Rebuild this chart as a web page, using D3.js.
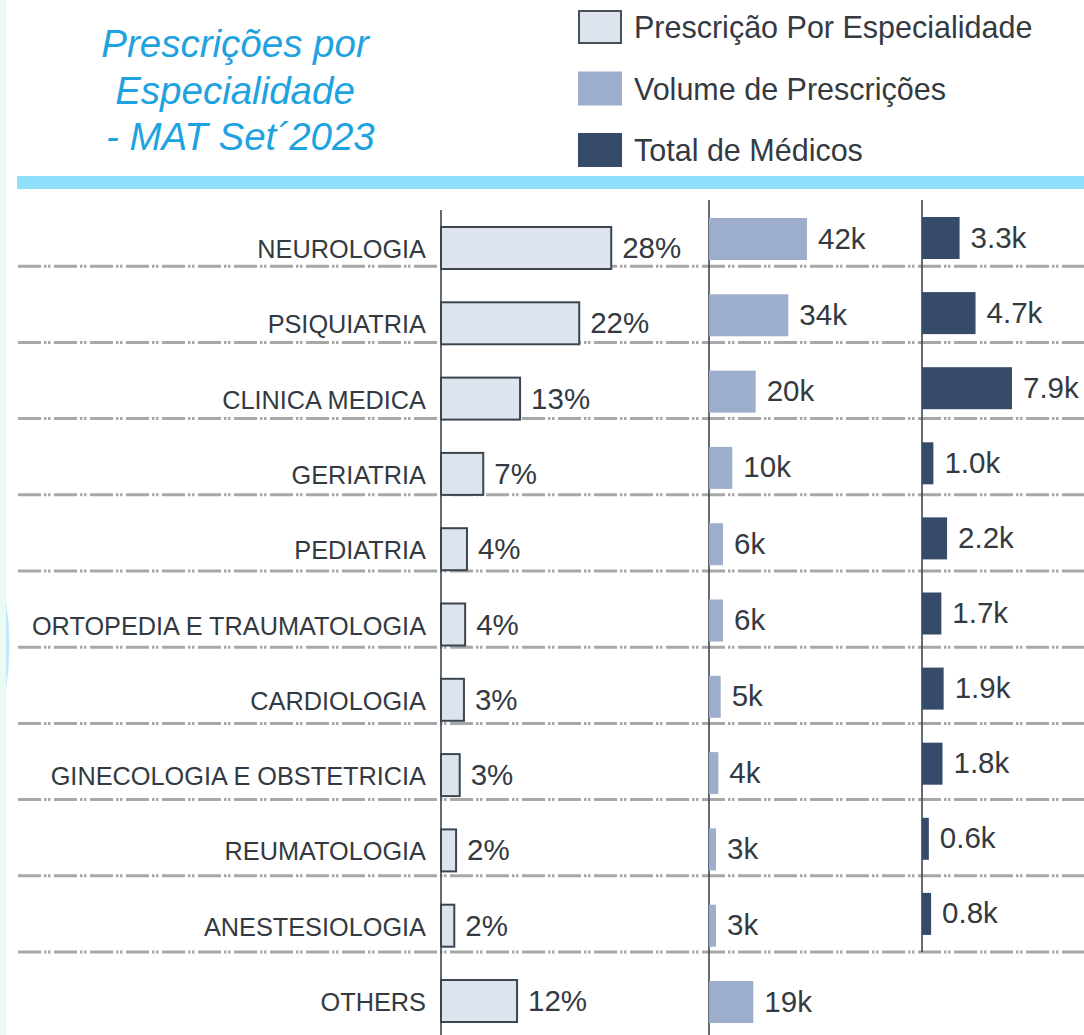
<!DOCTYPE html>
<html>
<head>
<meta charset="utf-8">
<script src="https://cdn.jsdelivr.net/npm/d3@7"></script>
<style>
  html, body { margin: 0; padding: 0; background: #ffffff; }
  svg { display: block; }
</style>
</head>
<body>
<div id="chart"></div>
<script>
// Chart data
var titleLines = ["Prescrições por", "Especialidade", " - MAT Set\u00b42023"];
var legendLabels = ["Prescrição Por Especialidade", "Volume de Prescrições", "Total de Médicos"];
var categories = ["NEUROLOGIA", "PSIQUIATRIA", "CLINICA MEDICA", "GERIATRIA", "PEDIATRIA",
    "ORTOPEDIA E TRAUMATOLOGIA", "CARDIOLOGIA", "GINECOLOGIA E OBSTETRICIA",
    "REUMATOLOGIA", "ANESTESIOLOGIA", "OTHERS"];
var shareValues = [28.2, 22.9, 13.1, 7.0, 4.3, 4.0, 3.8, 3.1, 2.5, 2.2, 12.6];   // %
var volumeValues = [42, 34, 20, 10, 6, 6, 5, 4, 3, 3, 19];                        // k
var doctorValues = [3.3, 4.7, 7.9, 1.0, 2.2, 1.7, 1.9, 1.8, 0.6, 0.8, null];      // k

const width = 1084;
const height = 1035;
const fontFamily = "'Liberation Sans', Arial, sans-serif";
const colors = ["#dde4ee", "#9daecd", "#364a6a"];
const textColor = "#333a42";

var svg = d3.select("#chart")
    .append("svg")
    .attr("width", width)
    .attr("height", height);

// Light strip on the left edge
svg.append("rect")
    .attr("x", 0).attr("y", 0)
    .attr("width", 6).attr("height", height)
    .style("fill", "#eafcf1");
svg.append("path")
    .attr("d", "M6,600 Q13,645 6,690 Z")
    .style("fill", "#c4e8fb");

// Title
svg.append("text")
    .attr("x", 235)
    .attr("y", 57)
    .style("font-family", fontFamily)
    .style("font-style", "italic")
    .style("font-size", "38.5px")
    .style("fill", "#1fa3e0")
    .style("text-anchor", "middle")
    .selectAll("tspan")
    .data(titleLines)
    .enter()
    .append("tspan")
    .attr("x", 235)
    .attr("dy", (d, i) => i === 0 ? 0 : 46.5)
    .style("white-space", "pre")
    .text(d => d);

// Legend
var legend = svg.append("g").attr("transform", "translate(578,10)");
legendLabels.forEach((label, i) => {
    legend.append("rect")
        .attr("x", i === 0 ? 1 : 0)
        .attr("y", i * 61.5 + (i === 0 ? 1 : 0))
        .attr("width", i === 0 ? 42 : 44)
        .attr("height", i === 0 ? 32 : 34)
        .style("fill", colors[i])
        .style("stroke", i === 0 ? "#474f58" : "none")
        .style("stroke-width", 2);
    legend.append("text")
        .attr("x", 56)
        .attr("y", i * 61.5 + 28)
        .style("font-family", fontFamily)
        .style("font-size", "30.5px")
        .style("fill", textColor)
        .text(label);
});

// Cyan separator under the header
svg.append("rect")
    .attr("x", 17).attr("y", 176)
    .attr("width", width - 17).attr("height", 13)
    .style("fill", "#8ee0fc");

// Row bands (for the dashed separators)
var yRow = d3.scaleBand()
    .domain(categories)
    .range([190, 190 + 76.2 * categories.length]);

// Bar positions differ a little per column
var yShare = d3.scaleBand().domain(categories).range([227, 227 + 75.3 * categories.length]);
var yVolume = d3.scaleBand().domain(categories).range([218, 218 + 76.3 * categories.length]);
var yDoctor = d3.scaleBand().domain(categories).range([217, 217 + 75.1 * categories.length]);
const barHeight = 42;

// X scales for the three columns
var xShare = d3.scaleLinear().domain([0, 28]).range([441, 610]);
var xVolume = d3.scaleLinear().domain([0, 42]).range([709, 807]);
var xDoctor = d3.scaleLinear().domain([0, 7.9]).range([922, 1012]);

// Dash-dot-dot separators between rows
categories.slice(0, -1).forEach(c => {
    var y = yRow(c) + yRow.bandwidth();
    svg.append("line")
        .attr("x1", 18).attr("x2", width)
        .attr("y1", y).attr("y2", y)
        .style("stroke", "#a8a8a8")
        .style("stroke-width", 3)
        .style("stroke-dasharray", "23,3,2.5,1.5,2.5,3.5");
});

// Vertical axis lines
var lastLine = yRow(categories[categories.length - 2]) + yRow.bandwidth();
[[xShare(0), 210, height], [xVolume(0), 200, height], [xDoctor(0), 200, lastLine]].forEach(a => {
    svg.append("line")
        .attr("x1", a[0]).attr("x2", a[0])
        .attr("y1", a[1]).attr("y2", a[2])
        .style("stroke", "#3c4752")
        .style("stroke-width", 1.6);
});

// Row labels
svg.append("g")
    .selectAll("text")
    .data(categories)
    .enter()
    .append("text")
    .attr("x", 426)
    .attr("y", d => yShare(d) + 31)
    .style("font-family", fontFamily)
    .style("font-size", "25.3px")
    .style("fill", textColor)
    .style("text-anchor", "end")
    .text(d => d);

// Column 1: share of prescriptions
categories.forEach((c, i) => {
    var v = shareValues[i];
    svg.append("rect")
        .attr("x", xShare(0))
        .attr("y", yShare(c))
        .attr("width", xShare(v) - xShare(0))
        .attr("height", barHeight)
        .style("fill", colors[0])
        .style("stroke", "#3b4650")
        .style("stroke-width", 2);
    svg.append("text")
        .attr("x", xShare(v) + 11)
        .attr("y", yShare(c) + 31)
        .style("font-family", fontFamily)
        .style("font-size", "29.5px")
        .style("fill", textColor)
        .text(Math.floor(v) + "%");
});

// Column 2: prescription volume
categories.forEach((c, i) => {
    var v = volumeValues[i];
    svg.append("rect")
        .attr("x", xVolume(0))
        .attr("y", yVolume(c))
        .attr("width", xVolume(v) - xVolume(0))
        .attr("height", barHeight)
        .style("fill", colors[1]);
    svg.append("text")
        .attr("x", xVolume(v) + 11)
        .attr("y", yVolume(c) + 30.5)
        .style("font-family", fontFamily)
        .style("font-size", "29.5px")
        .style("fill", textColor)
        .text(v + "k");
});

// Column 3: total of doctors
categories.forEach((c, i) => {
    var v = doctorValues[i];
    if (v == null) return;
    svg.append("rect")
        .attr("x", xDoctor(0))
        .attr("y", yDoctor(c))
        .attr("width", xDoctor(v) - xDoctor(0))
        .attr("height", barHeight)
        .style("fill", colors[2]);
    svg.append("text")
        .attr("x", xDoctor(v) + 11)
        .attr("y", yDoctor(c) + 30.5)
        .style("font-family", fontFamily)
        .style("font-size", "29.5px")
        .style("fill", textColor)
        .text(v.toFixed(1) + "k");
});
</script>
</body>
</html>
